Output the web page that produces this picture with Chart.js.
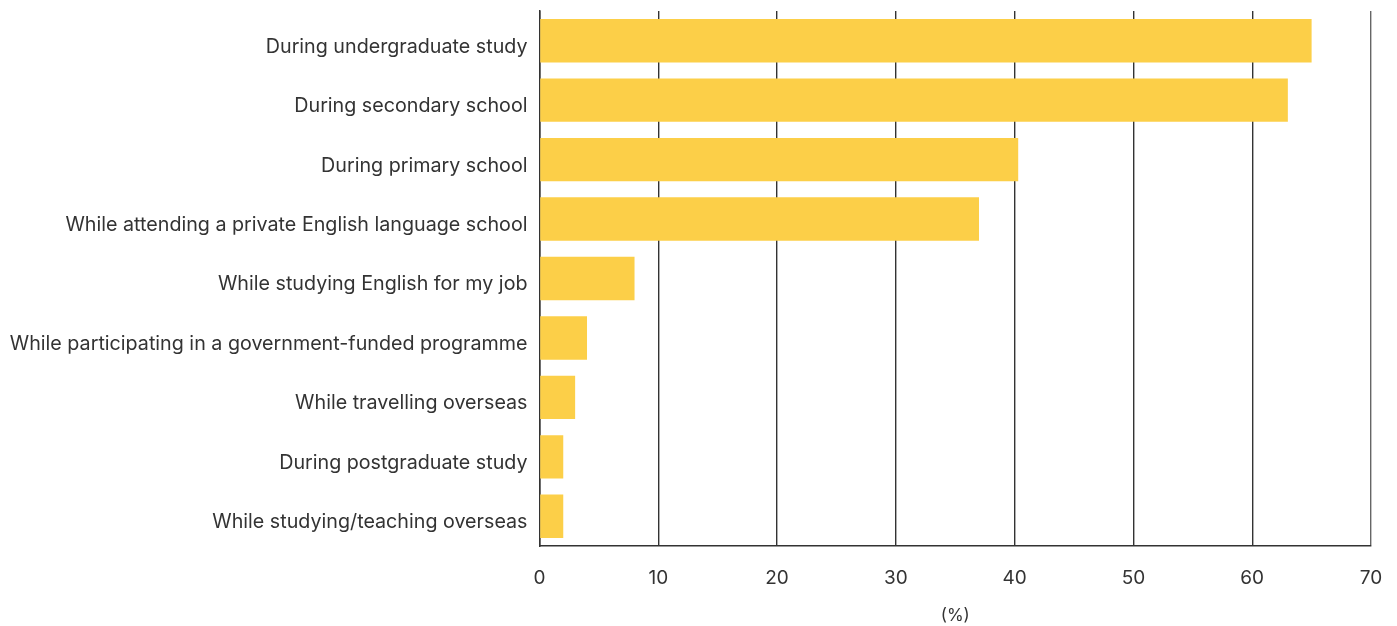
<!DOCTYPE html>
<html>
<head>
<meta charset="utf-8">
<script src="https://cdn.jsdelivr.net/npm/chart.js@4/dist/chart.umd.min.js"></script>
<style>
  html, body { margin: 0; padding: 0; background: #fff; }
  #wrap { width: 1397px; height: 626px; }
</style>
</head>
<body>
<div id="wrap"><canvas id="chart" width="1397" height="626"></canvas></div>
<script>
// Data
const categories = [
  "During undergraduate study",
  "During secondary school",
  "During primary school",
  "While attending a private English language school",
  "While studying English for my job",
  "While participating in a government-funded programme",
  "While travelling overseas",
  "During postgraduate study",
  "While studying/teaching overseas"
];
const percentValues = [65, 63, 40.3, 37, 8, 4, 3, 2, 2];
const xTicks = [0, 10, 20, 30, 40, 50, 60, 70];
const xTitle = "(%)";

const FONT = "Inter, 'Open Sans', sans-serif";

new Chart(document.getElementById("chart"), {
  type: "bar",
  data: {
    labels: categories,
    datasets: [{
      data: percentValues,
      backgroundColor: "#fccf48",
      borderWidth: 0,
      barPercentage: 0.73,
      categoryPercentage: 1
    }]
  },
  options: {
    indexAxis: "y",
    responsive: false,
    animation: false,
    layout: { padding: { top: 11, right: 26, bottom: 0, left: 0 } },
    plugins: {
      legend: { display: false },
      tooltip: { enabled: false }
    },
    scales: {
      x: {
        min: xTicks[0],
        max: xTicks[xTicks.length - 1],
        afterBuildTicks: (scale) => {
          scale.ticks = xTicks.map(v => ({ value: v }));
        },
        grid: {
          color: (ctx) => ctx.tick && ctx.tick.value === 70 ? "#666" : "#333",
          lineWidth: 1.4,
          drawTicks: false
        },
        border: { display: true, color: "#333", width: 1.5 },
        ticks: {
          color: "#333",
          font: { family: FONT, size: 19 },
          padding: 21
        },
        title: {
          display: true,
          text: xTitle,
          color: "#333",
          font: { family: FONT, size: 17 },
          padding: { top: 21, bottom: 0 }
        },
        afterFit: (scale) => {
          scale.height = 80;
          scale.paddingLeft = 0;
          scale.paddingRight = 0;
        }
      },
      y: {
        grid: { display: false, drawTicks: false },
        border: { display: true, color: "#333", width: 1.5 },
        ticks: {
          color: "#333",
          font: { family: FONT, size: 19.7 },
          padding: 12,
          labelOffset: 6
        },
        afterFit: (scale) => {
          scale.width = 539.5;
          scale.paddingTop = 0;
          scale.paddingBottom = 0;
        }
      }
    }
  }
});
</script>
</body>
</html>
